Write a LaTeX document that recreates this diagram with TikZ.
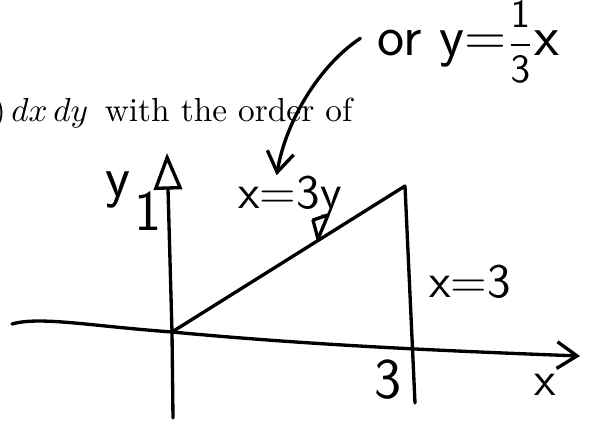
\documentclass[tikz,border=0pt]{standalone}
\usepackage{tikz}
\usetikzlibrary{arrows.meta}

\begin{document}
\begin{tikzpicture}[
  x=0.3pt, y=-0.3pt,
  pen/.style={line width=1pt, line cap=round, line join=round},
  hand/.style={font=\sffamily\Large, inner sep=0pt},
  yarr/.style={pen, -{Triangle[open, length=11pt, width=8.5pt, line width=1pt]}},
  barb/.style={pen, -{Straight Barb[length=6pt, width=8pt]}}
]
\useasboundingbox (0,0) rectangle (594,421);
% corners of the region and ends of the axes
\coordinate (o) at (172,332);
\coordinate (top) at (405,186);
\coordinate (xb) at (415,403);
\coordinate (ytop) at (167,153);
\coordinate (ybot) at (173,418);
\coordinate (xl) at (12,324);
\coordinate (xr) at (580,356);
% printed line of the question
\node[anchor=base east, inner sep=0pt] (q) at (353,121) {$)\,dx\,dy$\ \,with the order of};
% axes
\draw[yarr] (ybot) -- (o) -- (ytop);
\draw[barb] (xl) .. controls (40,316) and (90,326) .. (o)
  .. controls (300,344) and (420,350) .. (xr);
% region
\draw[pen] (o) -- (top) -- (xb);
\draw[pen] (318,239) -- (313,220) -- (328,215) -- cycle;
% handwritten labels
\node[hand, font=\sffamily\LARGE] (ylab) at (118,190) {y};
\node[hand, font=\sffamily\LARGE] (one) at (148,211) {1};
\node[hand] (hyp) at (290,197) {x=3y};
\node[hand] (vert) at (470,282) {x=3};
\node[hand, font=\sffamily\LARGE] (three) at (388,380) {3};
\node[hand] (xlab) at (545,385) {x};
\node[hand, font=\sffamily\LARGE, anchor=base west] (alt) at (377,55)
  {or y={\large$\displaystyle\frac{\mathsf{1}}{\mathsf{3}}$}x};
\draw[barb] ([xshift=-5pt, yshift=5pt]alt.base west) .. controls (320,65) and (286,120) .. ([xshift=-4pt]hyp.north);
\end{tikzpicture}
\end{document}
